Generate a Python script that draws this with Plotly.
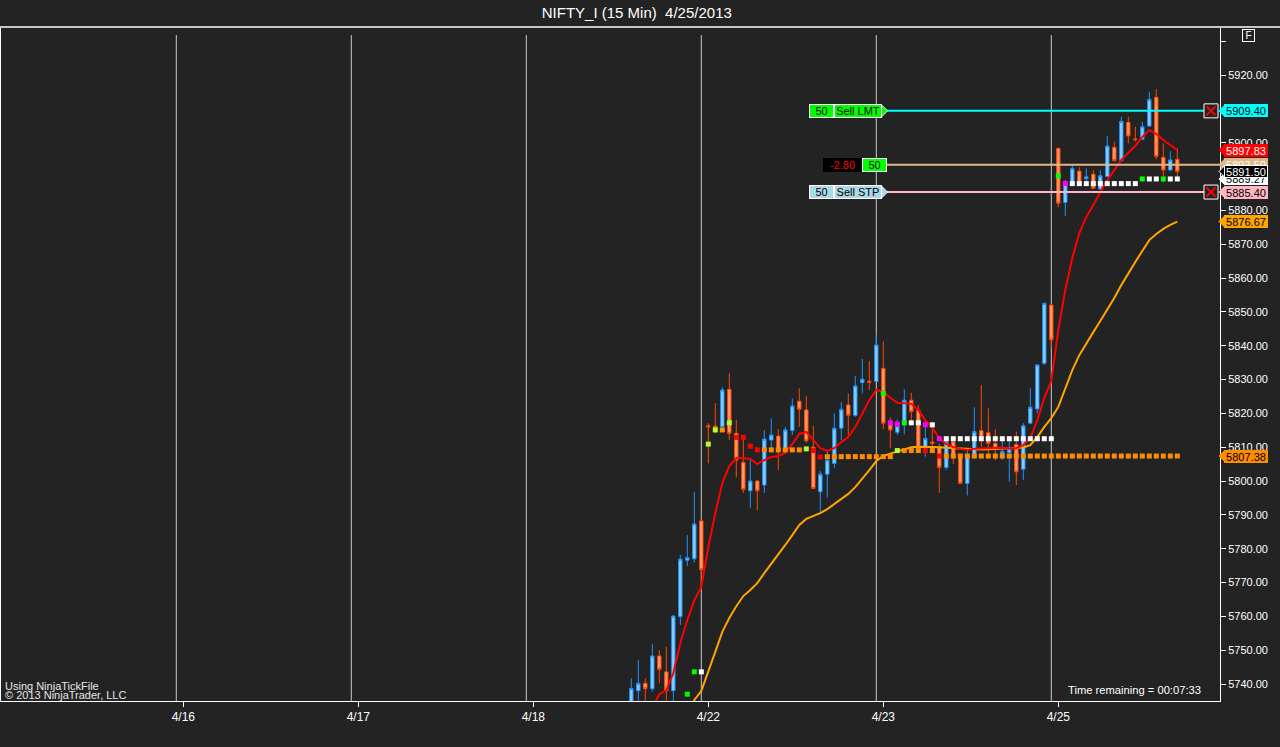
import plotly.graph_objects as go

# NIFTY_I 15 min, bar 0 = first bar on the screen (bars before it are below the visible range)
bars = list(range(79))

opens = [5733.0, 5738.0, 5740.2, 5738.6, 5748.3, 5743.6, 5738.0, 5759.9, 5776.6, 5777.0,
         5788.2, 5816.3, 5816.2, 5816.0, 5827.1, 5814.1, 5805.5, 5797.1, 5800.0, 5798.8,
         5812.1, 5813.3, 5809.2, 5814.9, 5823.6, 5821.0, 5810.0, 5796.8, 5802.0, 5805.2,
         5815.6, 5822.5, 5819.4, 5829.1, 5829.5, 5829.4, 5833.3, 5817.1, 5814.4, 5816.6,
         5823.9, 5821.0, 5810.1, 5811.5, 5810.1, 5804.0, 5811.6, 5807.4, 5799.3, 5807.7,
         5814.9, 5814.3, 5811.1, 5808.0, 5808.4, 5810.8, 5803.5, 5817.1, 5821.3, 5834.8,
         5852.0, 5898.3, 5882.3, 5888.0, 5891.6, 5889.3, 5890.7, 5886.3, 5890.0, 5898.6,
         5894.7, 5906.0, 5901.1, 5901.0, 5904.9, 5913.4, 5895.7, 5891.9, 5895.1]
highs = [5741.7, 5747.1, 5741.7, 5751.8, 5750.0, 5751.0, 5760.4, 5778.1, 5784.0, 5796.7,
         5788.7, 5817.1, 5823.0, 5827.7, 5831.8, 5818.0, 5812.7, 5806.2, 5800.3, 5815.1,
         5818.5, 5815.3, 5816.0, 5824.4, 5827.4, 5825.1, 5816.3, 5803.0, 5808.9, 5820.0,
         5823.3, 5825.9, 5831.0, 5836.1, 5835.5, 5843.2, 5841.2, 5818.8, 5818.2, 5827.1,
         5826.1, 5822.5, 5818.0, 5817.1, 5811.1, 5813.3, 5811.8, 5807.6, 5809.2, 5821.8,
         5828.4, 5821.5, 5815.3, 5812.6, 5812.1, 5814.6, 5817.1, 5827.4, 5834.6, 5852.8,
         5852.3, 5898.6, 5889.0, 5893.7, 5892.7, 5892.4, 5891.9, 5891.9, 5902.0, 5900.3,
         5907.7, 5907.7, 5904.7, 5906.2, 5915.1, 5915.8, 5899.8, 5897.5, 5898.3]
lows = [5730.0, 5733.5, 5732.0, 5737.7, 5740.2, 5733.0, 5733.0, 5757.4, 5774.9, 5775.9,
        5767.8, 5805.2, 5814.1, 5815.9, 5812.1, 5801.1, 5796.5, 5792.1, 5791.4, 5796.5,
        5809.2, 5803.3, 5808.7, 5813.6, 5816.0, 5811.3, 5797.6, 5790.9, 5795.1, 5803.8,
        5812.1, 5813.1, 5819.0, 5825.9, 5826.9, 5829.3, 5815.3, 5809.7, 5813.6, 5813.8,
        5817.2, 5809.7, 5807.2, 5810.0, 5796.5, 5803.3, 5805.0, 5799.1, 5795.7, 5807.5,
        5810.1, 5808.2, 5806.2, 5806.2, 5799.8, 5798.8, 5800.3, 5816.9, 5820.0, 5834.3,
        5839.2, 5880.9, 5878.3, 5887.8, 5887.5, 5888.0, 5886.3, 5886.1, 5889.8, 5894.4,
        5894.5, 5899.8, 5900.3, 5900.9, 5904.7, 5895.1, 5888.2, 5891.7, 5889.9]
closes = [5738.7, 5740.2, 5738.6, 5748.3, 5744.3, 5738.0, 5760.1, 5776.9, 5777.4, 5787.3,
          5773.8, 5816.0, 5815.6, 5826.9, 5814.1, 5806.2, 5797.5, 5800.0, 5797.1, 5812.4,
          5813.6, 5809.2, 5815.1, 5822.2, 5821.2, 5811.9, 5797.8, 5802.0, 5806.2, 5815.6,
          5821.2, 5819.4, 5828.1, 5830.1, 5829.2, 5840.2, 5817.1, 5815.1, 5816.3, 5823.9,
          5820.5, 5810.0, 5812.6, 5811.1, 5804.0, 5811.6, 5806.9, 5799.3, 5807.7, 5814.6,
          5812.9, 5811.1, 5809.7, 5808.7, 5809.4, 5802.7, 5816.3, 5821.8, 5834.3, 5852.5,
          5841.7, 5882.1, 5887.7, 5892.4, 5888.0, 5889.9, 5886.5, 5890.2, 5899.0, 5894.7,
          5906.3, 5902.0, 5900.9, 5904.7, 5912.8, 5895.9, 5891.9, 5894.9, 5891.5]

# fast (red) and slow (orange) moving averages
ema_fast = [None, None, None, 5732.9, 5737.0, 5738.2, 5743.2, 5752.1, 5758.9, 5764.8,
            5768.7, 5780.5, 5790.5, 5799.4, 5804.4, 5806.8, 5806.8, 5806.5, 5805.0, 5806.2,
            5807.1, 5807.4, 5808.3, 5810.9, 5813.9, 5814.5, 5812.1, 5809.7, 5808.9, 5809.7,
            5811.5, 5813.0, 5816.0, 5820.1, 5823.9, 5826.9, 5826.3, 5824.6, 5823.1, 5823.0,
            5822.8, 5821.0, 5818.0, 5815.7, 5812.7, 5810.9, 5810.0, 5809.5, 5809.2, 5809.5,
            5809.6, 5809.7, 5809.8, 5809.8, 5809.7, 5809.7, 5810.6, 5812.7, 5818.0, 5824.5,
            5829.6, 5844.6, 5856.5, 5865.9, 5873.3, 5878.0, 5881.6, 5885.1, 5889.0, 5891.9,
            5894.9, 5897.0, 5899.0, 5901.7, 5903.7, 5902.6, 5900.8, 5899.3, 5897.83]
ema_slow = [None, None, None, None, None, None, None, None, 5730.8, 5735.3,
            5737.9, 5743.5, 5749.5, 5755.4, 5759.5, 5763.0, 5766.0, 5767.8, 5769.8, 5772.8,
            5775.5, 5778.4, 5781.1, 5784.0, 5787.0, 5788.8, 5789.7, 5790.5, 5791.7, 5793.2,
            5794.7, 5796.2, 5798.2, 5800.6, 5803.2, 5805.9, 5807.4, 5808.1, 5808.7, 5809.5,
            5810.0, 5810.1, 5810.1, 5810.0, 5810.0, 5809.8, 5809.7, 5809.4, 5809.3, 5809.2,
            5809.3, 5809.4, 5809.5, 5809.6, 5809.6, 5809.7, 5809.9, 5810.6, 5813.0, 5816.0,
            5818.6, 5821.9, 5827.5, 5832.8, 5837.2, 5840.8, 5844.0, 5847.3, 5850.5, 5854.1,
            5857.9, 5861.5, 5864.7, 5868.0, 5871.2, 5873.0, 5874.5, 5875.7, 5876.67]

# trailing dots: value and state per bar (g green, l lime, o orange, r red, w white, m magenta, - none)
stop_lo = [None, None, None, None, None, None, None, None, None, None,
           None, 5810.9, 5815.1, 5815.1, 5817.2, 5812.9, 5812.9, 5810.3, 5809.2, 5809.2,
           5809.2, 5809.2, 5809.2, 5809.2, 5809.2, 5809.5, 5809.0, 5807.1, 5807.2, 5807.2,
           5807.2, 5807.2, 5807.2, 5807.2, 5807.2, 5807.2, 5807.2, 5807.2, 5809.0, 5809.0,
           5809.0, 5809.0, 5809.0, 5809.0, 5807.38, 5807.38, 5807.38, 5807.38, 5807.38, 5807.38,
           5807.38, 5807.38, 5807.38, 5807.38, 5807.38, 5807.38, 5807.38, 5807.38, 5807.38, 5807.38,
           5807.38, 5807.38, 5807.38, 5807.38, 5807.38, 5807.38, 5807.38, 5807.38, 5807.38, 5807.38,
           5807.38, 5807.38, 5807.38, 5807.38, 5807.38, 5807.38, 5807.38, 5807.38, 5807.38]
stop_lo_state = ("----------" "-llolrrrro" "ooooolrroo" "oooooooolo"
                 "oororooooo" "oooooooooo" "oooooooooo" "ooooooooo")
stop_hi = [None, None, None, None, None, None, None, None, 5737.0, 5743.6,
           5743.6, None, None, None, None, None, None, None, None, None,
           None, None, None, None, None, None, None, None, None, None,
           None, None, None, None, None, None, 5825.9, 5817.2, 5816.8, 5817.2,
           5817.2, 5817.2, 5816.6, 5816.6, 5812.5, 5812.5, 5812.5, 5812.5, 5812.5, 5812.5,
           5812.5, 5812.5, 5812.5, 5812.5, 5812.5, 5812.5, 5812.5, 5812.5, 5812.5, 5812.5,
           5812.5, 5890.2, 5887.9, 5887.9, 5887.9, 5887.9, 5887.9, 5887.9, 5887.9, 5887.9,
           5887.9, 5887.9, 5887.9, 5889.27, 5889.27, 5889.27, 5889.27, 5889.27, 5889.27]
stop_hi_state = ("--------gg" "w---------" "----------" "------gmmg"
                 "wwmwmwwwww" "wwwwwwwwww" "wgmwwwwwww" "wwwgwwgww")

day_labels = ["4/16", "4/17", "4/18", "4/22", "4/23", "4/25"]
day_first_bar = [-64, -39, -14, 11, 36, 61]

# open orders / position
sell_lmt = 5909.40
sell_stp = 5885.40
position_price = 5893.50
position_qty = 50
position_pnl = -2.80

# price markers on the right axis
tag_names = ["stop dots", "slow ema", "white dots", "sell stp", "position", "last", "fast ema", "sell lmt"]
tag_values = [5807.38, 5876.67, 5889.27, 5885.40, 5893.50, 5891.50, 5897.83, 5909.40]

assert len(stop_lo_state) == len(bars) and len(stop_hi_state) == len(bars)

# ---------------- styling / geometry ----------------
BG = "#232323"
FONT = "Liberation Sans, Arial, sans-serif"
W, H = 1280, 747
L, R, T, B = 1, 60, 28, 46
PW, PH = W - L - R, H - T - B
YLO, YHI = 5734.98, 5933.89
PT = (YHI - YLO) / PH  # price units per pixel

DOT_COL = {"g": "#00FF00", "l": "#ADFF2F", "o": "#FF8C00", "r": "#FF0000", "w": "#FFFFFF", "m": "#FF00FF"}
TAG_STYLE = {
    "stop dots": ("#FF8C00", "#000000", "#FF8C00"),
    "slow ema": ("#FFA500", "#000000", "#FFA500"),
    "white dots": ("#FFFFFF", "#000000", "#FFFFFF"),
    "sell stp": ("#FFB6C1", "#000000", "#FFB6C1"),
    "position": ("#DEB887", "#FFFFFF", "#DEB887"),
    "last": ("#000000", "#FFFFFF", "#FFFFFF"),
    "fast ema": ("#FF0000", "#FFFFFF", "#FF0000"),
    "sell lmt": ("#00FFFF", "#000000", "#00FFFF"),
}


def px(xp):
    return (xp - L) / PW


def py(yp):
    return (H - B - yp) / PH


fig = go.Figure()

fig.add_trace(go.Candlestick(
    x=bars, open=opens, high=highs, low=lows, close=closes,
    increasing=dict(line=dict(color="#1E90FF", width=1), fillcolor="#87CEFA"),
    decreasing=dict(line=dict(color="#FF4500", width=1), fillcolor="#FF9966"),
    whiskerwidth=0, hoverinfo="skip",
))
fig.add_trace(go.Scatter(x=bars, y=ema_slow, mode="lines", line=dict(color="#FFA500", width=2), hoverinfo="skip"))
fig.add_trace(go.Scatter(x=bars, y=ema_fast, mode="lines", line=dict(color="#FF0000", width=2), hoverinfo="skip"))
for vals, states in [(stop_lo, stop_lo_state), (stop_hi, stop_hi_state)]:
    pts = [(b, v, DOT_COL[s]) for b, v, s in zip(bars, vals, states) if v is not None]
    fig.add_trace(go.Scatter(x=[p[0] for p in pts], y=[p[1] for p in pts], mode="markers", hoverinfo="skip",
                             marker=dict(symbol="square", size=5, color=[p[2] for p in pts], line=dict(width=0))))

shapes = []
ann = []

# session break lines (drawn on the last bar of the previous session)
for b in day_first_bar:
    shapes.append(dict(type="line", xref="x", yref="paper", x0=b - 1, x1=b - 1, y0=0, y1=py(35),
                       line=dict(color="#C8C8C8", width=1), layer="below"))

# top border of the chart panel
shapes.append(dict(type="line", xref="paper", yref="paper", x0=px(0), x1=px(W), y0=py(27), y1=py(27),
                   line=dict(color="#FFFFFF", width=1.5)))


def box(x_center, y, text, bg, fg, width, border=None, size=11):
    ann.append(dict(xref="paper", yref="y", x=px(x_center), xanchor="center", y=y, yanchor="middle",
                    text=text, showarrow=False, bgcolor=bg, bordercolor=border or bg,
                    borderwidth=1, borderpad=0, width=width, height=12,
                    font=dict(family=FONT, size=size, color=fg)))


# order lines, with their chart-trader boxes
hh = 6.5 * PT
for price, col, label, bg in [(sell_lmt, "#00FFFF", "Sell LMT", "#00FF00"),
                              (sell_stp, "#FFB6C1", "Sell STP", "#ADD8E6")]:
    shapes.append(dict(type="line", xref="paper", yref="y", x0=px(887), x1=px(1204), y0=price, y1=price,
                       line=dict(color=col, width=2)))
    shapes.append(dict(type="path", xref="paper", yref="y",
                       path=f"M {px(881)},{price + hh} L {px(887.5)},{price} L {px(881)},{price - hh} Z",
                       fillcolor=bg, line=dict(color="#FFFFFF", width=1)))
    box(821.5, price, str(position_qty), bg, "#000000", 23, "#FFFFFF")
    box(858, price, label, bg, "#000000", 46, "#FFFFFF")
    # cancel box on the right
    shapes.append(dict(type="rect", xref="paper", yref="y", x0=px(1204), x1=px(1218),
                       y0=price - 7 * PT, y1=price + 7 * PT, fillcolor=BG, line=dict(color="#FFFFFF", width=1)))
    for s in (1, -1):
        shapes.append(dict(type="line", xref="paper", yref="y", x0=px(1206.5), x1=px(1215.5),
                           y0=price + s * 4.5 * PT, y1=price - s * 4.5 * PT, line=dict(color="#FF0000", width=2)))

# position line
shapes.append(dict(type="line", xref="paper", yref="y", x0=px(887), x1=px(1220), y0=position_price, y1=position_price,
                   line=dict(color="#DEB887", width=2)))
box(842, position_price, f"{position_pnl:.2f}", "#000000", "#FF0000", 37)
box(874, position_price, str(position_qty), "#00FF00", "#000000", 23, "#FFFFFF")

# price tags on the axis
for name, v in zip(tag_names, tag_values):
    bg, fg, bd = TAG_STYLE[name]
    shapes.append(dict(type="path", xref="paper", yref="y",
                       path=f"M {px(1219)},{v} L {px(1225)},{v + 6 * PT} L {px(1225)},{v - 6 * PT} Z",
                       fillcolor=bg, line=dict(color=bd, width=1)))
    ann.append(dict(xref="paper", yref="y", x=px(1224), xanchor="left", y=v, yanchor="middle",
                    text=f"{v:.2f}", showarrow=False, bgcolor=bg, bordercolor=bd, borderwidth=1, borderpad=0,
                    width=42, height=11, font=dict(family=FONT, size=11, color=fg)))

# corner texts
ann.append(dict(xref="paper", yref="paper", x=px(3), xanchor="left", y=py(686), yanchor="middle",
                text="Using NinjaTickFile", showarrow=False, font=dict(family=FONT, size=11, color="#E6E6E6")))
ann.append(dict(xref="paper", yref="paper", x=px(3), xanchor="left", y=py(694.5), yanchor="middle",
                text="\u00a9 2013 NinjaTrader, LLC", showarrow=False, font=dict(family=FONT, size=11, color="#E6E6E6")))
ann.append(dict(xref="paper", yref="paper", x=px(1203), xanchor="right", y=py(690), yanchor="middle",
                text="Time remaining = 00:07:33", showarrow=False, font=dict(family=FONT, size=11.2, color="#FFFFFF")))
ann.append(dict(xref="paper", yref="paper", x=px(1248), xanchor="center", y=py(35.5), yanchor="middle",
                text="F", showarrow=False, bordercolor="#FFFFFF", borderwidth=1, borderpad=0, width=11, height=11,
                font=dict(family=FONT, size=10, color="#FFFFFF")))

ytick_vals = list(range(5740, 5931, 10))
ytick_text = [f"{v:.2f}" if v < 5930 else "" for v in ytick_vals]

fig.update_layout(
    width=W, height=H, autosize=False,
    margin=dict(l=L, r=R, t=T, b=B, pad=0),
    paper_bgcolor=BG, plot_bgcolor=BG,
    showlegend=False, hovermode=False,
    font=dict(family=FONT, color="#FFFFFF"),
    title=dict(text="NIFTY_I (15 Min) \u00a04/25/2013", x=0.4975, xanchor="center",
               y=1 - 13 / H, yanchor="middle", font=dict(family=FONT, size=15, color="#FFFFFF")),
    xaxis=dict(range=[(1 - 631.3) / 7, (1 - 631.3) / 7 + PW / 7], showgrid=False, zeroline=False,
               rangeslider=dict(visible=False), tickvals=day_first_bar, ticktext=day_labels,
               ticks="outside", ticklen=5, tickcolor="#FFFFFF", showline=True, linecolor="#FFFFFF",
               linewidth=1, tickfont=dict(family=FONT, size=12, color="#FFFFFF")),
    yaxis=dict(range=[YLO, YHI], side="right", showgrid=False, zeroline=False,
               tickvals=ytick_vals, ticktext=ytick_text, ticks="outside", ticklen=5,
               tickcolor="#FFFFFF", showline=True, mirror=True, linecolor="#FFFFFF", linewidth=1,
               tickfont=dict(family=FONT, size=11, color="#FFFFFF")),
    shapes=shapes, annotations=ann,
)

fig.write_html("out.html", config={"displayModeBar": False},
               post_script="document.body.style.margin='0';document.body.style.overflow='hidden';")
